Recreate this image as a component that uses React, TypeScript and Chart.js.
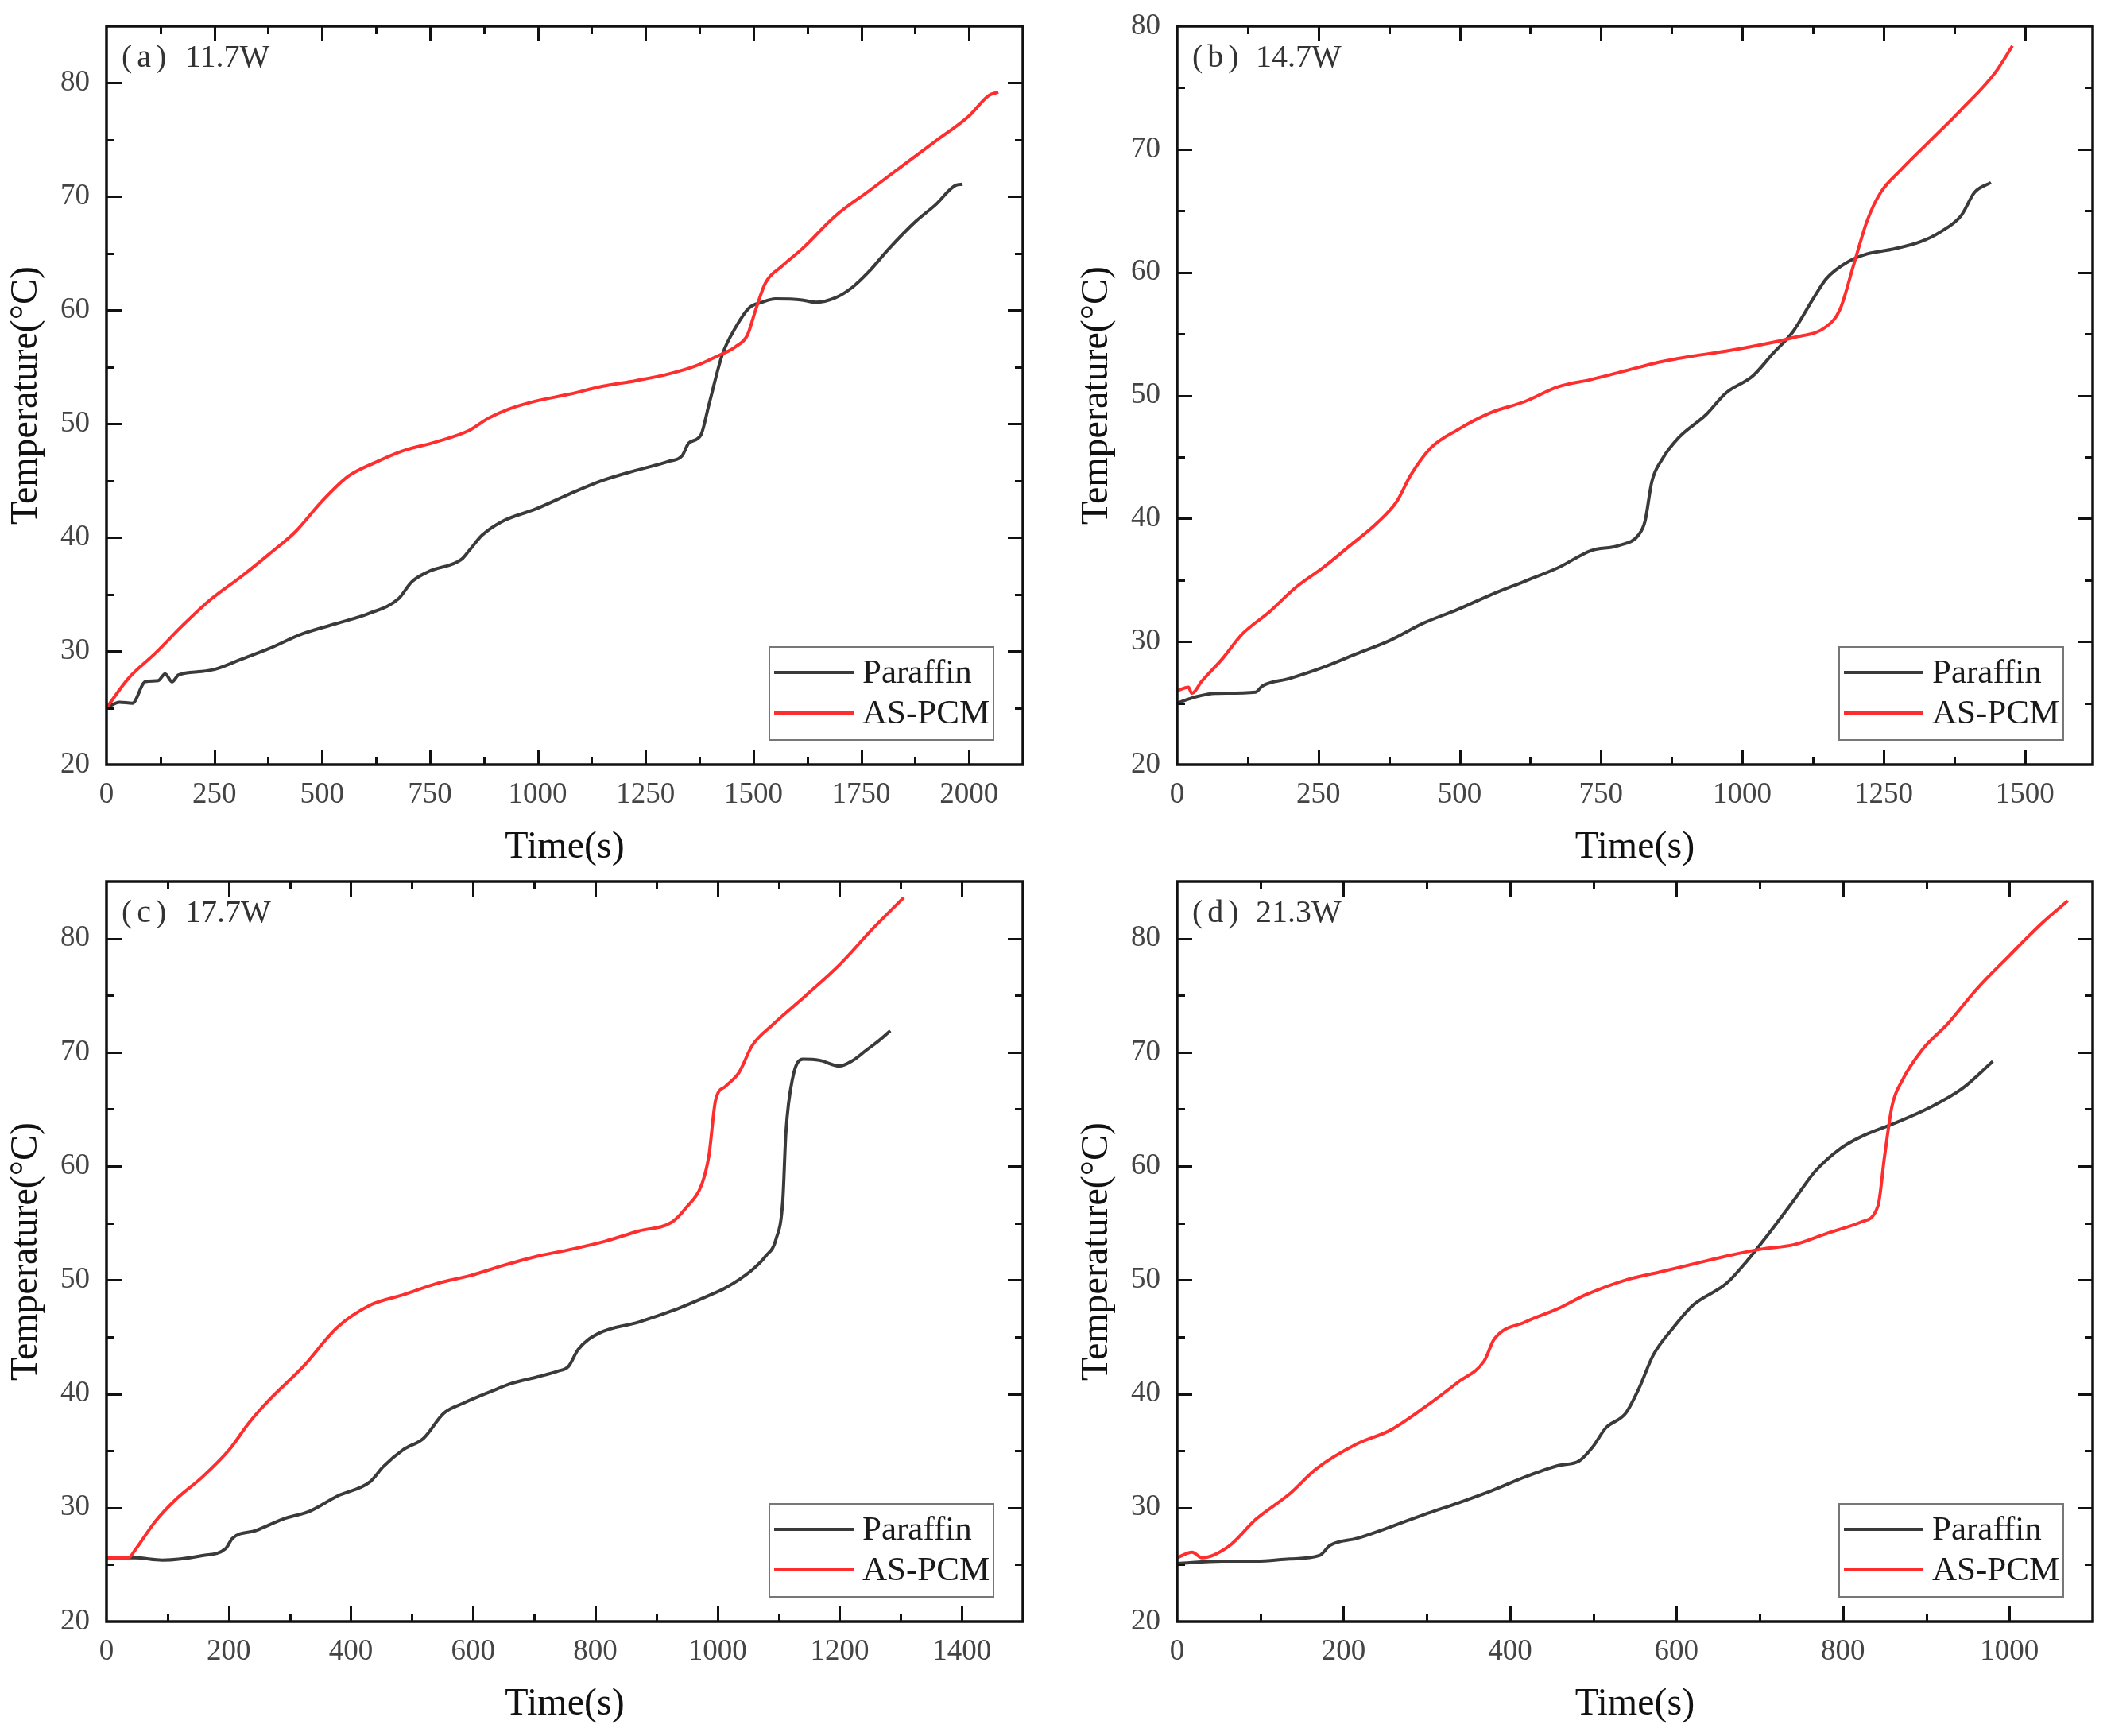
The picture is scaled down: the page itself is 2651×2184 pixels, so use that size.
import { useEffect, useRef } from 'react'
import { Chart, registerables } from 'chart.js'

Chart.register(...registerables)

// (a) 11.7W
const paraffinA_t = [0, 30, 60, 90, 120, 136, 152, 167, 221, 252, 314, 376, 453, 531, 608, 677, 708, 747, 824, 840, 871, 917, 995, 1072, 1149, 1227, 1304, 1335, 1350, 1378, 1397, 1428, 1459, 1490, 1520, 1551, 1613, 1644, 1690, 1729, 1768, 1814, 1876, 1923, 1969, 1985]
const paraffinA_T = [25.0, 25.5, 25.4, 27.3, 27.4, 28.0, 27.3, 27.9, 28.2, 28.4, 29.3, 30.2, 31.5, 32.4, 33.3, 34.6, 36.1, 37.0, 38.1, 38.8, 40.2, 41.4, 42.5, 43.8, 45.0, 45.9, 46.7, 47.2, 48.3, 49.0, 51.7, 56.1, 58.5, 60.2, 60.7, 61.0, 60.9, 60.7, 61.1, 62.0, 63.4, 65.4, 67.8, 69.3, 71.0, 71.1]
const pcmA_t = [0, 51, 113, 175, 237, 314, 376, 438, 500, 561, 623, 685, 763, 840, 886, 933, 995, 1072, 1149, 1227, 1304, 1366, 1413, 1459, 1486, 1505, 1528, 1567, 1613, 1690, 1768, 1845, 1923, 2000, 2046, 2068]
const pcmA_T = [25.0, 27.6, 29.8, 32.2, 34.4, 36.6, 38.5, 40.5, 43.2, 45.4, 46.6, 47.6, 48.4, 49.4, 50.5, 51.3, 52.0, 52.6, 53.3, 53.8, 54.4, 55.1, 55.9, 56.8, 57.8, 60.0, 62.4, 63.9, 65.4, 68.3, 70.5, 72.7, 74.9, 77.1, 78.9, 79.2]

// (b) 14.7W
const paraffinB_t = [0, 32, 68, 139, 151, 199, 258, 317, 377, 436, 496, 555, 615, 674, 733, 781, 817, 828, 840, 858, 888, 935, 971, 1019, 1054, 1090, 1126, 1149, 1185, 1221, 1268, 1316, 1351, 1387, 1411, 1440]
const paraffinB_T = [25.0, 25.5, 25.8, 25.9, 26.4, 27.0, 27.9, 29.0, 30.1, 31.5, 32.6, 33.8, 34.9, 36.0, 37.4, 37.8, 38.7, 39.8, 43.0, 44.8, 46.6, 48.4, 50.2, 51.6, 53.4, 55.2, 57.9, 59.5, 60.8, 61.5, 61.9, 62.5, 63.3, 64.6, 66.5, 67.3]
const pcmB_t = [0, 20, 26, 44, 80, 115, 163, 210, 258, 306, 353, 389, 413, 448, 496, 555, 615, 674, 733, 793, 852, 912, 971, 1031, 1090, 1149, 1173, 1197, 1221, 1245, 1280, 1328, 1387, 1447, 1478]
const pcmB_T = [26.0, 26.3, 25.8, 26.8, 28.6, 30.6, 32.4, 34.4, 36.0, 37.8, 39.6, 41.4, 43.5, 45.7, 47.2, 48.6, 49.5, 50.7, 51.3, 52.0, 52.7, 53.2, 53.6, 54.1, 54.7, 55.6, 57.0, 60.6, 64.2, 66.5, 68.3, 70.5, 73.2, 76.2, 78.4]

// (c) 17.7W
const paraffinC_t = [0, 47, 91, 157, 195, 206, 245, 289, 333, 377, 432, 453, 486, 519, 552, 585, 629, 662, 706, 739, 756, 772, 805, 871, 926, 980, 1013, 1057, 1079, 1096, 1107, 1112, 1123, 1140, 1167, 1200, 1222, 1244, 1266, 1283]
const paraffinC_T = [25.6, 25.6, 25.4, 25.8, 26.4, 27.3, 28.0, 29.0, 29.7, 31.0, 32.3, 33.6, 35.1, 36.1, 38.3, 39.2, 40.2, 40.9, 41.5, 42.0, 42.4, 43.9, 45.3, 46.3, 47.3, 48.5, 49.3, 50.9, 52.1, 53.6, 57.0, 62.9, 67.7, 69.4, 69.3, 68.8, 69.3, 70.2, 71.1, 71.9]
const pcmC_t = [0, 36, 47, 80, 113, 157, 201, 234, 267, 322, 377, 432, 486, 541, 596, 651, 706, 761, 816, 871, 926, 948, 975, 986, 997, 1013, 1035, 1057, 1090, 1145, 1200, 1255, 1305]
const pcmC_T = [25.6, 25.6, 26.3, 28.8, 30.7, 32.7, 35.1, 37.5, 39.5, 42.4, 45.8, 47.8, 48.7, 49.7, 50.4, 51.3, 52.1, 52.7, 53.4, 54.3, 55.1, 56.3, 58.5, 60.9, 65.8, 67.0, 68.2, 70.6, 72.4, 75.0, 77.7, 80.9, 83.6]

// (d) 21.3W
const paraffinD_t = [0, 54, 95, 135, 171, 184, 216, 256, 297, 337, 378, 418, 458, 483, 499, 515, 539, 555, 572, 596, 620, 660, 685, 709, 741, 766, 798, 822, 863, 903, 943, 980]
const paraffinD_T = [25.1, 25.3, 25.3, 25.5, 25.8, 26.7, 27.3, 28.3, 29.4, 30.4, 31.5, 32.7, 33.7, 34.1, 35.3, 37.0, 38.3, 40.5, 43.4, 45.8, 47.8, 49.7, 51.7, 53.9, 57.0, 59.5, 61.6, 62.6, 63.8, 65.1, 66.8, 69.2]
const pcmD_t = [0, 18, 30, 62, 95, 135, 167, 216, 256, 297, 337, 369, 381, 418, 458, 491, 539, 580, 620, 660, 701, 741, 781, 822, 842, 850, 859, 871, 895, 927, 960, 1000, 1040, 1070]
const pcmD_T = [25.6, 26.1, 25.6, 26.6, 29.0, 31.2, 33.4, 35.6, 36.8, 38.8, 41.0, 42.9, 44.8, 46.3, 47.5, 48.7, 50.0, 50.7, 51.4, 52.1, 52.7, 53.1, 54.1, 55.1, 56.5, 60.9, 65.3, 67.5, 70.2, 72.6, 75.5, 78.5, 81.4, 83.3]

const seriesNames = ['Paraffin', 'AS-PCM']
const panelTags = ['(a)', '(b)', '(c)', '(d)']
const panelPowers = ['11.7W', '14.7W', '17.7W', '21.3W']
const xMaxes = [2125, 1620, 1500, 1100]
const xSteps = [250, 250, 200, 200]
const yMaxes = [85, 80, 85, 85]
const yStep = 10

const SERIF = "'Liberation Serif', 'Times New Roman', serif"
const AXIS_W = 134
const AXIS_H = 140
const PAD_R = 30
const PAD_T = 46

const zip = (t: number[], v: number[]) => t.map((x, i) => ({ x, y: v[i] }))

// frame with inward major/minor ticks on all four sides
const frameTicks = {
  id: 'frameTicks',
  afterDatasetsDraw(chart: any) {
    const { ctx, chartArea, scales } = chart
    const { left, right, top, bottom } = chartArea
    const x = scales.x
    const y = scales.y
    const xMinor = x.options.ticks.stepSize / 2
    const yMinor = yStep / 2
    ctx.save()
    ctx.strokeStyle = '#111'
    ctx.lineWidth = 3
    ctx.beginPath()
    for (let i = 1; i * xMinor < x.max; i++) {
      const px = Math.round(x.getPixelForValue(i * xMinor)) + 0.5
      const len = i % 2 === 0 ? 19 : 10
      ctx.moveTo(px, bottom); ctx.lineTo(px, bottom - len)
      ctx.moveTo(px, top); ctx.lineTo(px, top + len)
    }
    for (let i = 1; y.min + i * yMinor < y.max; i++) {
      const py = Math.round(y.getPixelForValue(y.min + i * yMinor)) + 0.5
      const len = i % 2 === 0 ? 19 : 10
      ctx.moveTo(left, py); ctx.lineTo(left + len, py)
      ctx.moveTo(right, py); ctx.lineTo(right - len, py)
    }
    ctx.stroke()
    ctx.lineWidth = 3.5
    ctx.strokeRect(left, top, right - left, bottom - top)
    ctx.restore()
  },
}

const legendBox = {
  id: 'legendBox',
  afterDraw(chart: any) {
    const { ctx, chartArea } = chart
    const w = 282
    const h = 117
    const bx = chartArea.right - 37 - w
    const by = chartArea.bottom - 31 - h
    ctx.save()
    ctx.fillStyle = '#fff'
    ctx.fillRect(bx, by, w, h)
    ctx.strokeStyle = '#777'
    ctx.lineWidth = 2
    ctx.strokeRect(bx, by, w, h)
    chart.data.datasets.forEach((ds: any, i: number) => {
      const ly = by + 32 + i * 51
      ctx.strokeStyle = ds.borderColor
      ctx.lineWidth = 4
      ctx.beginPath()
      ctx.moveTo(bx + 6, ly)
      ctx.lineTo(bx + 106, ly)
      ctx.stroke()
      ctx.fillStyle = '#1a1a1a'
      ctx.font = `43px ${SERIF}`
      ctx.textBaseline = 'middle'
      ctx.textAlign = 'left'
      ctx.fillText(ds.label, bx + 117, ly + 2)
    })
    ctx.restore()
  },
}

const panelLabel = {
  id: 'panelLabel',
  afterDraw(chart: any, _args: any, opts: any) {
    const { ctx, chartArea } = chart
    ctx.save()
    ctx.fillStyle = '#333'
    ctx.font = `40px ${SERIF}`
    ctx.textBaseline = 'middle'
    ctx.textAlign = 'left'
    ctx.letterSpacing = '6px'
    ctx.fillText(opts.tag, chartArea.left + 19, chartArea.top + 40)
    ctx.letterSpacing = '0px'
    ctx.fillText(opts.power, chartArea.left + 99, chartArea.top + 40)
    ctx.restore()
  },
}

interface PanelProps {
  idx: number
  plotLeft: number
  plotTop: number
  plotW: number
  plotH: number
  paraffin: { x: number; y: number }[]
  pcm: { x: number; y: number }[]
}

const Panel = ({ idx, plotLeft, plotTop, plotW, plotH, paraffin, pcm }: PanelProps) => {
  const canvasRef = useRef<HTMLCanvasElement>(null)
  const chartInstance = useRef<Chart | null>(null)
  const width = plotW + AXIS_W + PAD_R
  const height = plotH + AXIS_H + PAD_T

  useEffect(() => {
    if (!canvasRef.current) return
    if (chartInstance.current) chartInstance.current.destroy()

    chartInstance.current = new Chart(canvasRef.current, {
      type: 'line',
      data: {
        datasets: [
          { label: seriesNames[0], data: paraffin, borderColor: '#3a3a3a', borderWidth: 4, pointRadius: 0, fill: false, order: 1, cubicInterpolationMode: 'monotone' },
          { label: seriesNames[1], data: pcm, borderColor: '#ff2e2e', borderWidth: 4, pointRadius: 0, fill: false, order: 0, cubicInterpolationMode: 'monotone' },
        ],
      },
      options: {
        responsive: false,
        animation: false,
        events: [],
        layout: { padding: { left: 0, right: PAD_R, top: PAD_T, bottom: 0 } },
        plugins: {
          legend: { display: false },
          tooltip: { enabled: false },
          panelLabel: { tag: panelTags[idx], power: panelPowers[idx] },
        } as any,
        scales: {
          x: {
            type: 'linear',
            min: 0,
            max: xMaxes[idx],
            afterFit: (s: any) => { s.height = AXIS_H },
            grid: { display: false, drawTicks: false },
            border: { display: false },
            ticks: {
              stepSize: xSteps[idx],
              autoSkip: false,
              maxRotation: 0,
              includeBounds: false,
              padding: 16,
              color: '#444',
              font: { family: SERIF, size: 37 },
              callback: (v: any) => String(v),
            },
            title: { display: true, text: 'Time(s)', color: '#111', font: { family: SERIF, size: 48 }, padding: { top: 0, bottom: 7 } },
          },
          y: {
            type: 'linear',
            min: 20,
            max: yMaxes[idx],
            afterFit: (s: any) => { s.width = AXIS_W },
            grid: { display: false, drawTicks: false },
            border: { display: false },
            ticks: {
              stepSize: yStep,
              autoSkip: false,
              includeBounds: false,
              padding: 21,
              color: '#444',
              font: { family: SERIF, size: 37 },
              callback: (v: any) => String(v),
            },
            title: { display: true, text: 'Temperature(°C)', color: '#111', font: { family: SERIF, size: 48 }, padding: { top: 5, bottom: 0 } },
          },
        },
      },
      plugins: [frameTicks, legendBox, panelLabel],
    })

    return () => {
      if (chartInstance.current) {
        chartInstance.current.destroy()
        chartInstance.current = null
      }
    }
  }, [idx, paraffin, pcm])

  return (
    <canvas
      ref={canvasRef}
      width={width}
      height={height}
      style={{ position: 'absolute', left: plotLeft - AXIS_W, top: plotTop - PAD_T, width, height }}
    />
  )
}

const paraffinSets = [zip(paraffinA_t, paraffinA_T), zip(paraffinB_t, paraffinB_T), zip(paraffinC_t, paraffinC_T), zip(paraffinD_t, paraffinD_T)]
const pcmSets = [zip(pcmA_t, pcmA_T), zip(pcmB_t, pcmB_T), zip(pcmC_t, pcmC_T), zip(pcmD_t, pcmD_T)]
const plotLefts = [134, 1481, 134, 1481]
const plotTops = [33, 33, 1109, 1109]
const plotWidths = [1153, 1152, 1153, 1152]
const plotHeights = [929, 929, 931, 931]

const App = () => {
  return (
    <div style={{ position: 'absolute', left: 0, top: 0, width: 2651, height: 2184, background: '#fff', overflow: 'hidden' }}>
      {[0, 1, 2, 3].map(i => (
        <Panel
          key={i}
          idx={i}
          plotLeft={plotLefts[i]}
          plotTop={plotTops[i]}
          plotW={plotWidths[i]}
          plotH={plotHeights[i]}
          paraffin={paraffinSets[i]}
          pcm={pcmSets[i]}
        />
      ))}
    </div>
  )
}

export default App
